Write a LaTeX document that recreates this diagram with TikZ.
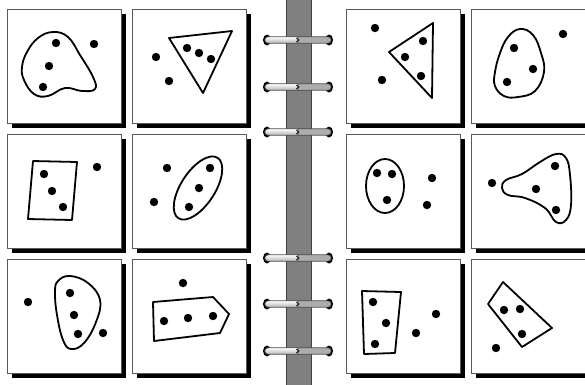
\documentclass[tikz,border=0pt]{standalone}
\begin{document}
\begin{tikzpicture}[x=1pt,y=-1pt,
  shadowbox/.style={fill=black},
  panelbox/.style={fill=white,draw=black!65,line width=0.8pt},
  outline/.style={draw=black,line width=1.8pt,line join=round},
  spinebar/.style={fill=black!50,draw=black!75,line width=1pt},
  ringleft/.style={top color=white,bottom color=black!30,draw=black!70,line width=0.7pt},
  ringright/.style={fill=black!32,draw=black!70,line width=0.7pt}]
\useasboundingbox (0,0) rectangle (585,384);
\fill[white] (0,0) rectangle (585,384);
\newcommand\mypanel[2]{%
  \fill[shadowbox] (#1+5,#2+5) rectangle ++(114,114);
  \draw[panelbox] (#1,#2) rectangle ++(114,114);}
\newcommand\dt[2]{\fill (#1,#2) circle[radius=4.2pt];}
\newcommand\myring[1]{%
  \fill (267,#1) ellipse[x radius=4pt,y radius=5.5pt];
  \fill (329,#1) ellipse[x radius=4pt,y radius=5.5pt];
  \draw[ringleft] (298,#1-3.2) -- (268,#1-3.2) arc[start angle=90,end angle=270,radius=3.2pt] -- (298,#1+3.2) -- cycle;
  \draw[ringright] (298,#1-3.2) -- (328,#1-3.2) arc[start angle=90,end angle=-90,radius=3.2pt] -- (298,#1+3.2) -- cycle;
  \draw[black,line width=0.6pt] (296,#1-2) -- (299,#1) -- (296,#1+2);}
% panels
\mypanel{7}{9}\mypanel{132}{9}\mypanel{346}{9}\mypanel{471}{9}
\mypanel{7}{134}\mypanel{132}{134}\mypanel{346}{134}\mypanel{471}{134}
\mypanel{7}{259}\mypanel{132}{259}\mypanel{346}{259}\mypanel{471}{259}
% spine
\draw[spinebar] (286,-2) rectangle (311,386);
\myring{40}\myring{87}\myring{132}\myring{258}\myring{304}\myring{351}
% panel 1
\draw[outline] plot[smooth cycle,tension=0.7] coordinates {(53,32) (68,37) (80,55) (93,77) (95,89) (82,91) (65,88) (48,96) (34,94) (24,80) (22,67) (27,52) (38,38)};
\dt{56}{43}\dt{49}{66}\dt{43}{87}\dt{94}{44}
% panel 2
\draw[outline] (169,38) -- (232,31) -- (203,93) -- cycle;
\dt{187}{48}\dt{199}{53}\dt{211}{59}\dt{156}{57}\dt{169}{81}
% panel 3
\draw[outline] (389,52) -- (433,23) -- (432,98) -- cycle;
\dt{423}{41}\dt{405}{57}\dt{421}{76}\dt{375}{28}\dt{382}{80}
% panel 4
\draw[outline] plot[smooth cycle,tension=0.7] coordinates {(520,29) (533,35) (541,53) (544,72) (535,91) (518,97) (504,96) (495,86) (495,72) (500,53) (508,37)};
\dt{514}{48}\dt{533}{69}\dt{507}{82}\dt{563}{34}
% panel 5
\draw[outline] (33,161) -- (77,162) -- (72,220) -- (28,219) -- cycle;
\dt{44}{174}\dt{52}{191}\dt{63}{207}\dt{97}{167}
% panel 6
\draw[outline,rotate around={57:(198,188)}] (198,188) ellipse[x radius=36pt,y radius=17pt];
\dt{210}{168}\dt{199}{188}\dt{189}{207}\dt{167}{168}\dt{154}{202}
% panel 7
\draw[outline] (385,186) ellipse[x radius=19pt,y radius=27pt];
\dt{377}{173}\dt{392}{174}\dt{387}{200}\dt{432}{178}\dt{427}{205}
% panel 8
\draw[outline] plot[smooth cycle,tension=0.7] coordinates {(506,180) (522,174) (540,162) (556,154) (566,158) (570,175) (571,205) (566,220) (556,222) (545,208) (525,198) (508,195) (502,188)};
\dt{555}{166}\dt{536}{189}\dt{556}{210}\dt{492}{183}
% panel 9
\draw[outline] plot[smooth cycle,tension=0.7] coordinates {(58,281) (70,276) (88,283) (100,300) (96,322) (84,343) (71,349) (63,340) (57,315) (55,292)};
\dt{70}{293}\dt{74}{315}\dt{78}{334}\dt{28}{302}\dt{103}{333}
% panel 10
\draw[outline] (153,302) -- (213,297) -- (229,314) -- (220,333) -- (154,341) -- cycle;
\dt{164}{321}\dt{188}{318}\dt{213}{316}\dt{183}{283}
% panel 11
\draw[outline] (362,291) -- (401,292) -- (395,353) -- (364,354) -- cycle;
\dt{373}{302}\dt{386}{323}\dt{375}{344}\dt{416}{333}\dt{436}{314}
% panel 12
\draw[outline] (488,304) -- (503,282) -- (552,328) -- (522,347) -- cycle;
\dt{504}{310}\dt{520}{309}\dt{522}{334}\dt{496}{348}
\end{tikzpicture}
\end{document}
